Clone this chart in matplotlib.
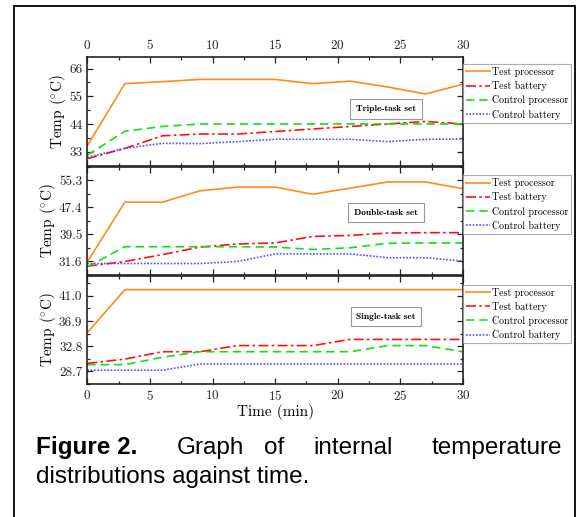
import numpy as np
import matplotlib
matplotlib.use('Agg')
import matplotlib.pyplot as plt
from matplotlib.patches import Rectangle

plt.rcParams['font.family'] = 'cmr10'
plt.rcParams['mathtext.fontset'] = 'cm'
plt.rcParams['axes.unicode_minus'] = False
plt.rcParams['axes.formatter.use_mathtext'] = True

time_min = [0, 3, 6, 9, 12, 15, 18, 21, 24, 27, 30]
series_names = ['Test processor', 'Test battery', 'Control processor', 'Control battery']

# triple-task set
triple_test_proc = [35.4, 60.0, 60.8, 61.7, 61.7, 61.7, 60.0, 61.0, 58.7, 55.9, 59.8]
triple_test_batt = [30.2, 34.3, 39.3, 40.0, 40.0, 41.0, 42.0, 43.0, 44.0, 45.0, 44.0]
triple_ctrl_proc = [31.6, 41.1, 43.0, 44.0, 44.0, 44.0, 44.0, 44.0, 44.0, 44.0, 44.0]
triple_ctrl_batt = [30.8, 34.3, 36.3, 36.2, 37.0, 37.9, 37.9, 37.9, 37.0, 37.9, 38.0]

# double-task set
double_test_proc = [31.5, 48.9, 48.9, 52.2, 53.3, 53.3, 51.2, 53.0, 54.8, 54.8, 52.8]
double_test_batt = [30.2, 31.6, 33.6, 35.8, 36.7, 37.0, 38.9, 39.2, 39.9, 40.0, 40.0]
double_ctrl_proc = [30.0, 35.9, 35.9, 35.9, 35.9, 35.8, 35.1, 35.6, 36.9, 37.0, 37.0]
double_ctrl_batt = [31.0, 31.0, 31.0, 31.0, 31.6, 33.8, 33.8, 33.8, 32.7, 32.7, 31.7]

# single-task set
single_test_proc = [35.0, 42.0, 42.0, 42.0, 42.0, 42.0, 42.0, 42.0, 42.0, 42.0, 42.0]
single_test_batt = [30.0, 30.7, 31.9, 31.9, 32.9, 32.9, 32.9, 33.9, 33.9, 33.9, 33.9]
single_ctrl_proc = [29.8, 29.8, 31.0, 31.9, 31.9, 31.9, 31.9, 31.9, 32.9, 32.9, 31.9]
single_ctrl_batt = [28.9, 28.9, 28.9, 29.9, 29.9, 29.9, 29.9, 29.9, 29.9, 29.9, 29.9]

panels = [
    ('Triple-task set', [triple_test_proc, triple_test_batt, triple_ctrl_proc, triple_ctrl_batt],
     [33, 44, 55, 66], ['33', '44', '55', '66'], (28.0, 70.6), 0.52, 0.936),
    ('Double-task set', [double_test_proc, double_test_batt, double_ctrl_proc, double_ctrl_batt],
     [31.6, 39.5, 47.4, 55.3], ['31.6', '39.5', '47.4', '55.3'], (28.05, 59.3), 0.576, 0.92),
    ('Single-task set', [single_test_proc, single_test_batt, single_ctrl_proc, single_ctrl_batt],
     [28.7, 32.8, 36.9, 41.0], ['28.7', '32.8', '36.9', '41.0'], (28.1, 44.3), 0.62, 0.917),
]

colors = ['#FF8C1A', '#FF1010', '#10E010', '#5050FF']
styles = ['-', (0, (6, 2, 1.5, 2)), (0, (5, 3)), (0, (1, 1))]

W, H = 587, 517
fig = plt.figure(figsize=(W / 100, H / 100), dpi=100)

# outer frame
fig.patches.append(Rectangle((14 / W, -0.05), (575 - 14) / W, 1.05 - 6 / H,
                             transform=fig.transFigure, fill=False,
                             edgecolor='black', linewidth=1.3))

left = 87.3 / W
width = (463 - 87.3) / W
tops = [57, 166.5, 275.5]
ph = 108.5

for i, (title, data, yt, ytl, ylim, ann_y, leg_y) in enumerate(panels):
    ax = fig.add_axes([left, 1 - (tops[i] + ph) / H, width, ph / H])
    for vals, c, ls, name in zip(data, colors, styles, series_names):
        ax.plot(time_min, vals, color=c, linestyle=ls, linewidth=1.2, label=name)
    ax.set_xlim(0, 30)
    ax.set_ylim(*ylim)
    ax.set_yticks(yt)
    ax.set_yticklabels(ytl)
    step = yt[1] - yt[0]
    ax.set_yticks(np.arange(yt[0] - step / 2, ylim[1], step / 2), minor=True)
    ax.set_xticks([0, 5, 10, 15, 20, 25, 30])
    ax.set_xticks(np.arange(0, 30.1, 2.5), minor=True)
    ax.tick_params(which='both', direction='in', top=True, right=True, labelsize=9.5,
                   width=0.9, colors='#222222')
    ax.tick_params(which='major', length=4.5)
    ax.tick_params(which='minor', length=2.5)
    ax.tick_params(axis='x', labelbottom=(i == 2), labeltop=(i == 0))
    for s in ax.spines.values():
        s.set_linewidth(1.2)
        s.set_color('#222222')
    ax.set_ylabel(r'Temp ($^{\circ}$C)', fontsize=11, labelpad=1)
    ax.text(0.795, ann_y, title, transform=ax.transAxes, ha='center', va='center',
            fontsize=6.8, family='cmb10',
            bbox=dict(boxstyle='square,pad=0.6', facecolor='white', edgecolor='#999999',
                      linewidth=0.8))
    leg = ax.legend(loc='upper left', bbox_to_anchor=(1.0, leg_y), borderaxespad=0,
                    fontsize=7.2, frameon=True, fancybox=False, handlelength=2.4,
                    handletextpad=0.2, labelspacing=0.42, borderpad=0.3)
    leg.get_frame().set_edgecolor('#999999')
    leg.get_frame().set_linewidth(0.8)
    leg.set_clip_on(False)
    if i == 2:
        ax.set_xlabel('Time (min)', fontsize=11, labelpad=1)

# caption, first line justified across the width
cap_font = 'Liberation Sans'
cap_size = 17.5
y1 = 1 - 454 / H
y2 = 1 - 483 / H
fig.text(35.5 / W, y1, 'Figure 2.', fontsize=cap_size, fontweight='bold', family=cap_font,
         va='baseline')
fig.text(177 / W, y1, 'Graph', fontsize=cap_size, family=cap_font, va='baseline')
fig.text(264 / W, y1, 'of', fontsize=cap_size, family=cap_font, va='baseline')
fig.text(313 / W, y1, 'internal', fontsize=cap_size, family=cap_font, va='baseline')
fig.text(562 / W, y1, 'temperature', fontsize=cap_size, family=cap_font, va='baseline',
         ha='right')
fig.text(35.5 / W, y2, 'distributions against time.', fontsize=cap_size, family=cap_font,
         va='baseline')

fig.savefig('out.png', dpi=100)
